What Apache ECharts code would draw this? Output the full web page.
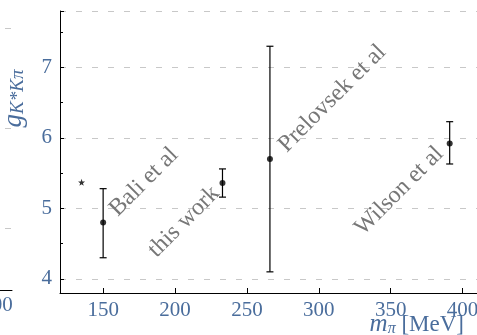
<!DOCTYPE html>
<html>
<head>
<meta charset="utf-8">
<script src="https://cdn.jsdelivr.net/npm/echarts@6/dist/echarts.min.js"></script>
<style>
html, body { margin: 0; padding: 0; background: #fff; }
#main { width: 477px; height: 335px; }
</style>
</head>
<body>
<div id="main"></div>
<script>
// data
var groups = ['Bali et al', 'this work', 'Prelovsek et al', 'Wilson et al'];
var mpi    = [150, 233, 266, 391];
var gVal   = [4.80, 5.36, 5.70, 5.92];
var gLow   = [4.30, 5.16, 4.10, 5.63];
var gHigh  = [5.28, 5.56, 7.30, 6.23];
// physical point (star)
var starPoint = [135, 5.37];
// where each rotated label starts (data units)
var labelX = [163, 190, 280.5, 333.5];
var labelY = [4.82, 4.24, 5.73, 4.55];

var blue = '#4a6d9c';
var serif = 'Liberation Serif';

var errData = [], ptData = [], lblData = [];
for (var i = 0; i < groups.length; i++) {
    errData.push([mpi[i], gLow[i], gHigh[i]]);
    ptData.push([mpi[i], gVal[i]]);
    lblData.push([labelX[i], labelY[i], groups[i]]);
}

var myChart = echarts.init(document.getElementById('main'));

myChart.setOption({
    animation: false,
    backgroundColor: '#fff',
    grid: [
        { left: 60, right: 0, top: 11, bottom: 42, outerBoundsMode: 'none', containLabel: false },
        // neighbour panel, mostly off-screen
        { left: -203, width: 215, top: 28, height: 262, outerBoundsMode: 'none', containLabel: false }
    ],
    xAxis: [
        {
            type: 'value', gridIndex: 0,
            min: 120, max: 410,
            minInterval: 50, maxInterval: 50,
            axisLine: { onZero: false, lineStyle: { color: '#000', width: 1 } },
            axisTick: { inside: true, length: 5, lineStyle: { color: '#000' } },
            axisLabel: {
                color: blue, fontFamily: serif, fontSize: 21, margin: 7,
                showMinLabel: false, showMaxLabel: false
            },
            splitLine: { show: false },
            name: '{m|m}{s|π} [MeV]',
            nameLocation: 'end',
            nameGap: 0,
            nameMoveOverlap: false,
            nameTextStyle: {
                align: 'right', verticalAlign: 'top', padding: [19, 13, 0, 0],
                color: blue, fontFamily: serif, fontSize: 23,
                rich: {
                    m: { fontFamily: serif, fontStyle: 'italic', fontSize: 25, color: blue },
                    s: { fontFamily: serif, fontStyle: 'italic', fontSize: 16, color: blue, verticalAlign: 'bottom', padding: [8, 0, 0, 0] }
                }
            }
        },
        {
            type: 'value', gridIndex: 1,
            min: 0, max: 215,
            minInterval: 100, maxInterval: 100,
            axisLine: { onZero: false, lineStyle: { color: '#000', width: 1 } },
            axisTick: { inside: true, length: 5, lineStyle: { color: '#000' } },
            axisLabel: {
                color: blue, fontFamily: serif, fontSize: 21, margin: 5,
                showMaxLabel: false
            },
            splitLine: { show: false }
        }
    ],
    yAxis: [
        {
            type: 'value', gridIndex: 0,
            min: 3.8, max: 7.8,
            minInterval: 1, maxInterval: 1,
            axisLine: { show: true, onZero: false, lineStyle: { color: '#000', width: 1 } },
            axisTick: { show: true, inside: true, length: 4, lineStyle: { color: '#000' } },
            minorTick: { show: true, splitNumber: 2, length: 3, lineStyle: { color: '#000' } },
            axisLabel: {
                color: blue, fontFamily: serif, fontSize: 21, margin: 8,
                showMinLabel: false, showMaxLabel: false
            },
            splitLine: { show: true, lineStyle: { color: '#c8c8c8', type: [6, 10], width: 1 } },
            name: '{g|g}{s|K*Kπ}',
            nameLocation: 'middle',
            nameRotate: 90,
            nameGap: 33,
            nameMoveOverlap: false,
            nameTextStyle: {
                padding: [0, 0, 0, 107],
                rich: {
                    g: { fontFamily: serif, fontStyle: 'italic', fontSize: 27, color: blue },
                    s: { fontFamily: serif, fontStyle: 'italic', fontSize: 19, color: blue, verticalAlign: 'bottom', padding: [8, 0, 0, 0] }
                }
            }
        },
        {
            type: 'value', gridIndex: 1,
            inverse: true,
            min: 0, max: 2.62,
            minInterval: 1, maxInterval: 1,
            axisLine: { show: false, onZero: false },
            axisTick: { show: false },
            axisLabel: { show: false },
            splitLine: { show: true, lineStyle: { color: '#c8c8c8', type: [6, 10], width: 1 } }
        }
    ],
    series: [
        {
            name: 'errors',
            type: 'custom',
            xAxisIndex: 0, yAxisIndex: 0,
            data: errData,
            renderItem: function (params, api) {
                var top = api.coord([api.value(0), api.value(2)]);
                var bot = api.coord([api.value(0), api.value(1)]);
                var w = 3.5;
                var st = { stroke: '#000', lineWidth: 1.2 };
                return {
                    type: 'group',
                    children: [
                        { type: 'line', shape: { x1: top[0], y1: top[1], x2: bot[0], y2: bot[1] }, style: st },
                        { type: 'line', shape: { x1: top[0] - w, y1: top[1], x2: top[0] + w, y2: top[1] }, style: st },
                        { type: 'line', shape: { x1: bot[0] - w, y1: bot[1], x2: bot[0] + w, y2: bot[1] }, style: st }
                    ]
                };
            },
            z: 3
        },
        {
            name: 'values',
            type: 'scatter',
            xAxisIndex: 0, yAxisIndex: 0,
            data: ptData,
            symbol: 'circle',
            symbolSize: 6,
            itemStyle: { color: '#000' },
            z: 4
        },
        {
            name: 'physical',
            type: 'scatter',
            xAxisIndex: 0, yAxisIndex: 0,
            data: [starPoint],
            symbol: 'path://M0,-10 L2.35,-3.24 9.51,-3.09 3.8,1.24 5.88,8.09 0,4 -5.88,8.09 -3.8,1.24 -9.51,-3.09 -2.35,-3.24 Z',
            symbolSize: 7,
            itemStyle: { color: '#000' },
            z: 4
        },
        {
            name: 'labels',
            type: 'custom',
            xAxisIndex: 0, yAxisIndex: 0,
            data: lblData,
            renderItem: function (params, api) {
                var p = api.coord([api.value(0), api.value(1)]);
                return {
                    type: 'text',
                    x: p[0], y: p[1],
                    rotation: Math.PI / 4,
                    style: {
                        text: groups[params.dataIndex],
                        fill: '#777',
                        font: '24px "Liberation Serif"',
                        align: 'left',
                        verticalAlign: 'bottom'
                    }
                };
            },
            z: 2
        }
    ]
});
</script>
</body>
</html>
